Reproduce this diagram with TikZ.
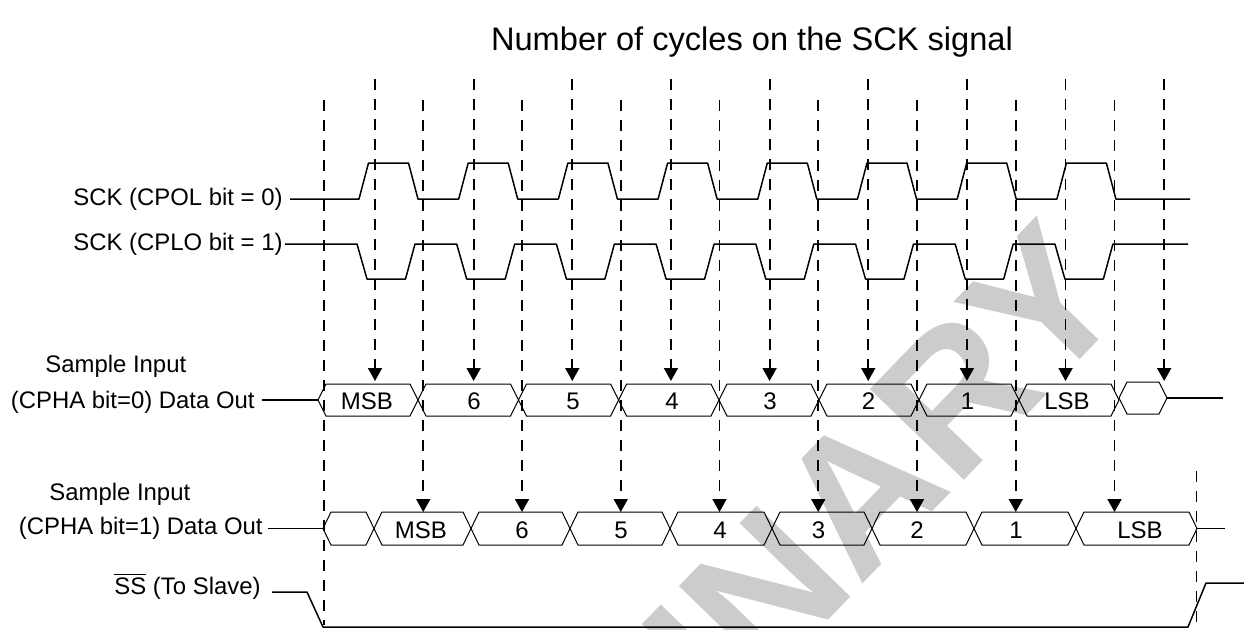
\documentclass[tikz,border=0pt]{standalone}
\usepackage{fontspec}
\setmainfont{Liberation Sans}
\usetikzlibrary{arrows.meta,calc}
\newcommand\hexbox[4]{%
  \draw[bus] (#1,{(#3+#4)/2}) -- ({#1+8},#3) -- ({#2-8},#3) -- (#2,{(#3+#4)/2})
    -- ({#2-8},#4) -- ({#1+8},#4) -- cycle;}
\begin{document}
\begin{tikzpicture}[x=0.5pt,y=-0.5pt,
  lbl/.style={font=\fontsize{11.95}{14}\selectfont, inner sep=0pt},
  boxtxt/.style={font=\fontsize{12}{14}\selectfont, inner sep=0pt, anchor=base},
  wave/.style={line width=0.75pt, line join=round},
  bus/.style={line width=0.5pt, line join=miter},
  guide/.style={line width=0.9pt, dash pattern=on 5.5pt off 4.5pt},
  samp/.style={guide, -{Triangle[length=6.5pt,width=7pt]}},
]
\useasboundingbox (0,0) rectangle (1244,629);
% watermark
\begin{scope}
  \clip (0,0) rectangle (1244,629);
  \node[rotate=46, anchor=base east, inner sep=0pt, text=black!20,
        font=\fontsize{95}{95}\selectfont\bfseries] (wm) at (1134,304) {PRELIMINARY};
\end{scope}
% title
\node[font=\fontsize{16.3}{20}\selectfont, anchor=base, inner sep=0pt] (title) at (752,50) {Number of cycles on the SCK signal};
% labels
\node[lbl, anchor=base east] (sck0) at (283,205.5) {SCK (CPOL bit = 0)};
\node[lbl, anchor=base east] (sck1) at (283,250.5) {SCK (CPLO bit = 1)};
\node[lbl, anchor=base west] (si0) at (45,372) {Sample Input};
\node[lbl, anchor=base east] (do0) at (255,408) {(CPHA bit=0) Data Out};
\node[lbl, anchor=base west] (si1) at (49,500) {Sample Input};
\node[lbl, anchor=base east] (do1) at (263,534) {(CPHA bit=1) Data Out};
\node[lbl, anchor=base east] (ss) at (261,594) {$\overline{\mbox{SS}}$ (To Slave)};
% SCK waveforms
\draw[wave] (290,199) foreach \k in {0,...,7} {
   -- ({359+99.7*\k},199) -- ({368.5+99.7*\k},163) -- ({408.5+99.7*\k},163) -- ({418+99.7*\k},199) } -- (1190,199);
\draw[wave] (285,244) foreach \k in {0,...,7} {
   -- ({357+99.7*\k},244) -- ({367+99.7*\k},279) -- ({405.5+99.7*\k},279) -- ({415+99.7*\k},244) } -- (1188,244);
% CPHA0 bus
\draw[wave] (262,400) -- (318,400);
\foreach \a/\b in {318/418,418/518.5,518.5/618.6,618.6/719,719/819,819/919,919/1019,1019/1119}
  {\hexbox{\a}{\b}{384}{416}}
\hexbox{1119}{1167}{382}{414}
\draw[wave] (1167,398) -- (1223,398);
\foreach \t/\x [count=\i] in {MSB/367,6/474,5/573,4/672,3/770,2/868.5,1/967.5,LSB/1067}
  {\node[boxtxt] (a\i) at (\x,409.5) {\t};}
% CPHA1 bus
\draw[wave] (268,528.5) -- (323,528.5);
\foreach \a/\b in {323/374,374/471,471/570,570/670,670/772,772/872,872/974,974/1076,1076/1197}
  {\hexbox{\a}{\b}{512}{545}}
\draw[wave] (1197,528.5) -- (1225,528.5);
\foreach \t/\x [count=\i] in {MSB/421,6/522,5/621,4/720,3/818.5,2/917,1/1016,LSB/1140}
  {\node[boxtxt] (b\i) at (\x,538.5) {\t};}
% SS
\draw[wave] (272,592) -- (307,592) -- (323,627) -- (1188,627) -- (1206,583) -- (1244,583);
% sampling guides to CPHA0
\foreach \k in {0,...,8} {
  \coordinate (st\k) at ({375+98.65*\k},79);
  \coordinate (sb\k) at ({375+98.65*\k},381);
  \draw[samp] (st\k) -- (sb\k);
}
% half-period guides to CPHA1
\foreach \k in {1,...,8} {
  \coordinate (ht\k) at ({324.5+98.75*\k},100);
  \coordinate (hb\k) at ({324.5+98.75*\k},512);
  \draw[samp] (ht\k) -- (hb\k);
}
\coordinate (ht0) at (324,100);
\coordinate (hb0) at (324,625);
\draw[guide] (ht0) -- (hb0);
\coordinate (et) at (1196.5,471);
\coordinate (eb) at (1196.5,629);
\draw[guide] (et) -- (eb);
\end{tikzpicture}
\end{document}
